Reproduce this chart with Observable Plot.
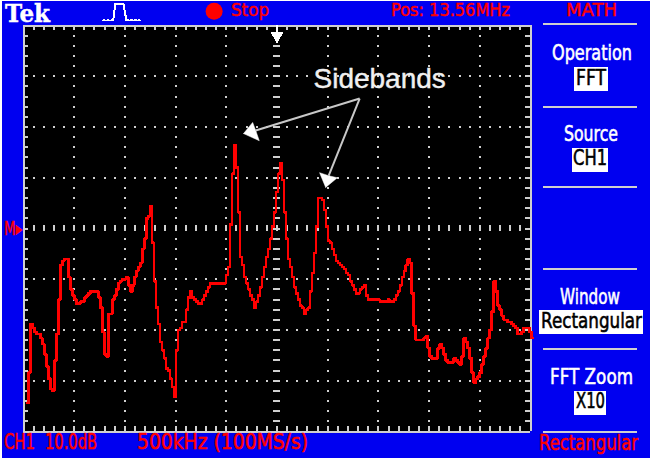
<!DOCTYPE html>
<html>
<head>
<meta charset="utf-8">
<script src="https://cdn.jsdelivr.net/npm/d3@7"></script>
<script src="https://cdn.jsdelivr.net/npm/@observablehq/plot@0.6"></script>
<style>
html,body{margin:0;padding:0;background:#fff;width:650px;height:460px;overflow:hidden}
#scope{position:absolute;left:2px;top:1px;width:648px;height:457px;background:#0000f0}
#chart{position:absolute;left:0;top:0}
#chart svg{background:transparent;display:block}
.lab{position:absolute;white-space:nowrap;font-family:"DejaVu Sans",sans-serif;line-height:1;transform-origin:0 0;font-size:16px;-webkit-text-stroke:0.45px currentColor}
.box{position:absolute;background:#fff}
</style>
</head>
<body>
<div id="scope"></div>
<div id="chart"></div>
<script>
// FFT trace, one value per displayed sample, in scope counts (25 counts per vertical division)
const levels = [
-86,-71,-47,-49,-51,-52,-52,-54,-57,-62,-68,-74,-79,-80,-65,-52,-35,-18,-16,-15,-15,-24,-30,-33,-35,-37,-37,-36,-36,-34,-33,-32,-31,-31,-31,-31,-34,-39,-51,-62,-63,-42,-42,-35,-33,-30,-27,-26,-25,-25,-24,-28,-31,-28,-24,-21,-19,-17,-10,-5,5,6,11,-7,-26,-39,-47,-56,-60,-64,-69,-70,-74,-78,-83,-60,
-50,-49,-46,-46,-40,-34,-31,-34,-35,-36,-37,-37,-35,-33,-31,-29,-27,-27,-27,-27,-27,-27,-27,-27,-23,-19,2,27,41,30,8,-14,-18,-24,-27,-30,-33,-35,-39,-36,-33,-29,-24,-19,-14,-10,-5,1,8,18,27,32,24,8,-5,-15,-19,-24,-29,-32,-35,-38,-39,-42,-40,-39,-31,-22,-12,1,15,15,14,9,1,-6,-7,-10,-13,-16,-17,-18,-19,-20,-22,-23,
-26,-28,-30,-32,-32,-30,-29,-28,-33,-35,-35,-35,-35,-35,-35,-36,-36,-36,-36,-35,-36,-36,-35,-33,-31,-28,-24,-21,-18,-15,-17,-32,-48,-55,-55,-55,-55,-54,-53,-59,-63,-64,-64,-64,-59,-57,-59,-62,-65,-66,-66,-66,-64,-65,-66,-67,-63,-54,-56,-59,-64,-71,-76,-74,-73,-71,-67,-63,-59,-54,-50,-41,-26,-31,-38,-40,-43,-45,-45,-46,-46,-47,-48,-49,-52,-52,-51,-49,-49,-49,-51,-54
];
const firstSample = 2;
const samplesAcross = 254;
const countsPerDiv = 25;

// Annotation, in graticule divisions
const annotation = "Sidebands";
const arrowTail = [6.63, 2.56];
const arrowNotches = [[4.58, 1.93], [6.02, 1.04]];
const headLeft = [[4.34, 1.87], [4.52, 2.09], [4.58, 1.93], [4.65, 1.73], [4.34, 1.87]];
const headRight = [[5.96, 0.81], [5.84, 1.10], [6.02, 1.04], [6.19, 1.00], [5.96, 0.81]];

// Menu rows and on-screen readouts
const menuRules = [4.02, 2.40, 0.81, -0.79, -2.38, -4];
const pulseTop = [[1.77, 4.1], [1.81, 4.43], [1.97, 4.43], [2.03, 4.1]];
const pulseBaseLeft = [[1.57, 4.1], [1.77, 4.1]];
const pulseBaseRight = [[2.03, 4.1], [2.3, 4.1]];

const trace = levels.map((c, i) => ({x: (i + firstSample) * 10 / samplesAcross, y: c / countsPerDiv}));
const fifthsX = d3.range(1, 50).map(k => k / 5);
const fifthsY = d3.range(-19, 20).map(k => k / 5);
const gridDots = [];
for (const gx of [1,2,3,4,6,7,8,9]) for (const fy of fifthsY) gridDots.push({x: gx, y: fy});
for (const gy of [-3,-2,-1,1,2,3]) for (const fx of fifthsX) if (fx !== 5) gridDots.push({x: fx, y: gy});

const G = "#cfcfcf";
const crisp = {shapeRendering: "crispEdges"};
const px = d => d[0], py = d => d[1];
const plot = Plot.plot({
  width: 650, height: 460,
  margin: 0,
  x: {domain: [0, 10], range: [23, 530], axis: null},
  y: {domain: [-4, 4], range: [431, 25], axis: null},
  style: {background: "transparent"},
  marks: [
    Plot.rectY([0], {x1: 0, x2: 10, y1: -4, y2: 4, fill: "#000", ...crisp}),
    Plot.dot(gridDots, {x: "x", y: "y", symbol: "square", r: 1.13, fill: G, ...crisp}),
    // frame ticks
    Plot.ruleX(fifthsX, {x: d => d, y1: 4, y2: 3.9, stroke: G, strokeWidth: 2, ...crisp}),
    Plot.ruleX(fifthsX, {x: d => d, y1: -4, y2: -3.9, stroke: G, strokeWidth: 2, ...crisp}),
    Plot.ruleY(fifthsY, {y: d => d, x1: 0, x2: 0.1, stroke: G, strokeWidth: 2, ...crisp}),
    Plot.ruleY(fifthsY, {y: d => d, x1: 10, x2: 9.9, stroke: G, strokeWidth: 2, ...crisp}),
    // centre graticule
    Plot.ruleX(fifthsX, {x: d => d, y1: -0.06, y2: 0.06, stroke: G, strokeWidth: 2, ...crisp}),
    Plot.ruleY(fifthsY, {y: d => d, x1: 4.94, x2: 5.06, stroke: G, strokeWidth: 2, ...crisp}),
    // frame
    Plot.ruleX([0, 10], {y1: -4, y2: 4, stroke: G, strokeWidth: 2, ...crisp}),
    Plot.ruleY([-4, 4], {x1: 0, x2: 10, stroke: G, strokeWidth: 2, ...crisp}),
    // menu separators
    Plot.ruleY(menuRules, {x1: 10.26, x2: 12.11, stroke: G, strokeWidth: 2, ...crisp}),
    // trigger marker
    Plot.ruleX([5], {y1: 4, y2: 3.84, stroke: "#fff", strokeWidth: 2, ...crisp}),
    Plot.dot([[5, 3.8]], {x: px, y: py, symbol: "triangle", r: 5, rotate: 180, fill: "#fff", ...crisp}),
    // FFT trace
    Plot.line(trace, {x: "x", y: "y", stroke: "#ff0000", strokeWidth: 2.5, curve: "step", ...crisp}),
    // annotation
    Plot.text([annotation], {x: 5.72, y: 2.95, text: d => d, fill: "#f0f0f0", stroke: "#f0f0f0", strokeWidth: 0.4, fontFamily: "Liberation Sans", fontSize: 28, textAnchor: "start"}),
    Plot.link(arrowNotches, {x1: arrowTail[0], y1: arrowTail[1], x2: px, y2: py, stroke: "#c8c8c8", strokeWidth: 2}),
    Plot.line(headLeft, {x: px, y: py, fill: "#fff", stroke: "#fff", strokeWidth: 0.5}),
    Plot.line(headRight, {x: px, y: py, fill: "#fff", stroke: "#fff", strokeWidth: 0.5}),
    // trigger-status pulse icon
    Plot.line(pulseTop, {x: px, y: py, stroke: "#fff", strokeWidth: 2, ...crisp}),
    Plot.line(pulseBaseLeft, {x: px, y: py, stroke: "#fff", strokeWidth: 2, strokeDasharray: "2 2", ...crisp}),
    Plot.line(pulseBaseRight, {x: px, y: py, stroke: "#fff", strokeWidth: 2, strokeDasharray: "2 2", ...crisp}),
    // run indicator
    Plot.dot([[3.76, 4.28]], {x: px, y: py, r: 8.5, fill: "#ff0000"})
  ]
});
document.getElementById("chart").appendChild(plot);

// Readout text: [text, left, cap top, width, cap height, colour]
const RED = "#ff0000", WHITE = "#ffffff", BLACK = "#000000";
const boxes = [[574, 67, 34, 24], [572, 148, 36, 24], [539, 310, 104, 24], [574, 391, 32, 24]];
for (const [l, t, w, h] of boxes) {
  const b = document.createElement("div");
  b.className = "box";
  Object.assign(b.style, {left: l + "px", top: t + "px", width: w + "px", height: h + "px"});
  document.body.appendChild(b);
}
const labels = [
  ["Stop", 231, 4, 38, 13, RED],
  ["Pos: 13.56MHz", 391, 4, 119, 13, RED],
  ["MATH", 566, 4, 51, 13, RED],
  ["Operation", 552, 45, 80, 15, WHITE],
  ["FFT", 576, 70, 30, 16, BLACK],
  ["Source", 564, 126, 54, 16, WHITE],
  ["CH1", 573, 150, 34, 16, BLACK],
  ["Window", 560, 289, 60, 15, WHITE],
  ["Rectangular", 541, 313, 101, 15, BLACK],
  ["FFT Zoom", 550, 369, 83, 16, WHITE],
  ["X10", 576, 393, 29, 16, BLACK],
  ["CH1", 4, 434, 31, 16, RED],
  ["10.0dB", 45, 434, 52, 16, RED],
  ["500kHz (100MS/s)", 137, 434, 171, 16, RED],
  ["Rectangular", 539, 435, 99, 15, RED],
  ["M▸", 4, 221, 18, 14, RED]
];
for (const [txt, l, capTop, w, capH, col] of labels) {
  const s = document.createElement("span");
  s.className = "lab";
  s.textContent = txt;
  s.style.left = l + "px";
  s.style.color = col;
  document.body.appendChild(s);
  const sy = capH / (0.729 * 16);
  s.style.top = (capTop - 0.117 * 16 * sy) + "px";
  s.style.transform = `scale(${w / s.getBoundingClientRect().width},${sy})`;
}
const tek = document.createElement("span");
tek.className = "lab";
tek.textContent = "Tek";
Object.assign(tek.style, {left: "5px", color: WHITE, fontFamily: '"DejaVu Serif",serif', fontWeight: "bold", fontSize: "23.3px", top: "2.3px"});
document.body.appendChild(tek);
tek.style.transform = `scaleX(${45 / tek.getBoundingClientRect().width})`;
</script>
</body>
</html>
